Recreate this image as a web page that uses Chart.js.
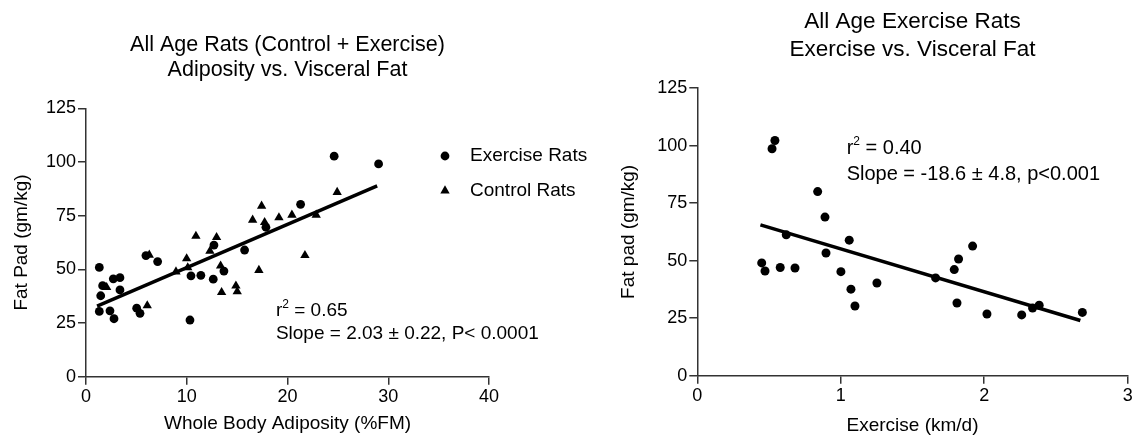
<!DOCTYPE html>
<html>
<head>
  <title>Visceral Fat vs Adiposity and Exercise</title>
  <script src="https://cdn.jsdelivr.net/npm/chart.js"></script>
  <style>
    body { margin: 0; background: #fff; }
    .box { position: absolute; top: 0; height: 439px; }
    #leftBox { left: 0; width: 600px; }
    #rightBox { left: 600px; width: 542px; }
  </style>
</head>
<body>
  <div class="box" id="leftBox"><canvas id="leftChart" width="600" height="439"></canvas></div>
  <div class="box" id="rightBox"><canvas id="rightChart" width="542" height="439"></canvas></div>

  <script>
    // left panel: adiposity (%FM) vs fat pad (gm/kg)
    const exAdiposity = [1.32, 1.46, 1.65, 1.32, 2.38, 2.78, 2.71, 3.37, 3.37, 5.03, 5.36, 5.95, 7.11,
                         10.42, 11.4, 10.32, 12.63, 12.7, 13.69, 15.74, 17.86, 21.3, 24.63, 29.04];
    const exFatPad    = [50.9, 37.7, 42.4, 30.4, 30.7, 27.0, 45.6, 46.1, 40.4, 31.9, 29.5, 56.4, 53.6,
                         47.0, 47.2, 26.4, 45.4, 61.3, 49.2, 59.0, 69.6, 80.3, 102.7, 99.1];
    const ctlAdiposity = [2.05, 6.08, 6.28, 8.93, 9.99, 10.1, 10.91, 12.3, 12.96, 13.36, 13.46, 14.88, 15.01,
                          16.54, 17.16, 17.43, 17.73, 19.15, 20.44, 21.73, 22.85, 24.93];
    const ctlFatPad    = [41.6, 33.1, 56.7, 48.9, 55.0, 50.8, 65.5, 58.5, 64.9, 51.6, 39.3, 42.3, 39.6,
                          73.0, 49.6, 79.5, 71.9, 74.1, 75.3, 56.5, 75.3, 85.9];
    const leftFitX = [1.1, 28.9];
    const leftFitY = [32.9, 88.9];
    const leftXTicks = [0, 10, 20, 30, 40];
    const yTicks = [0, 25, 50, 75, 100, 125];

    // right panel: exercise (km/d) vs fat pad (gm/kg)
    const exerciseKm = [0.541, 0.521, 0.839, 0.89, 0.62, 1.059, 0.897, 0.449, 0.472, 0.578, 0.681, 1.001,
                        1.071, 1.099, 1.252, 1.661, 1.919, 1.821, 1.791, 1.81, 2.019, 2.261, 2.337, 2.383, 2.684];
    const exerciseFat = [102.2, 98.6, 80.0, 68.9, 61.2, 58.9, 53.3, 49.0, 45.5, 47.0, 46.8, 45.2,
                         37.6, 30.3, 40.3, 42.5, 56.3, 50.7, 46.1, 31.6, 26.8, 26.4, 29.4, 30.6, 27.5];
    const rightFitX = [0.44, 2.67];
    const rightFitY = [65.5, 24.0];
    const rightXTicks = [0, 1, 2, 3];

    const FONT = 'Arial, "Liberation Sans", Helvetica, sans-serif';
    const INK = '#000';
    const AXIS = '#333';

    const toPoints = (xs, ys) => xs.map((v, i) => ({ x: v, y: ys[i] }));

    function fitNote(chart, note) {
      const { ctx, scales: { x, y } } = chart;
      const px = x.getPixelForValue(note.x);
      const big = note.size + 'px ' + FONT;
      ctx.save();
      ctx.fillStyle = INK;
      ctx.textBaseline = 'middle';
      ctx.textAlign = 'left';
      let py = y.getPixelForValue(note.y1);
      ctx.font = big;
      ctx.fillText('r', px, py);
      let w = ctx.measureText('r').width;
      ctx.font = '12px ' + FONT;
      ctx.fillText('2', px + w, py - 6);
      w += ctx.measureText('2').width;
      ctx.font = big;
      ctx.fillText(' = ' + note.r2, px + w, py);
      py = y.getPixelForValue(note.y2);
      ctx.fillText(note.slope, px, py);
      ctx.restore();
    }

    function marker(ctx, style, cx, cy, r) {
      ctx.beginPath();
      if (style === 'triangle') {
        ctx.moveTo(cx, cy - r);
        ctx.lineTo(cx + r * Math.sin(Math.PI / 3), cy + r / 2);
        ctx.lineTo(cx - r * Math.sin(Math.PI / 3), cy + r / 2);
        ctx.closePath();
      } else {
        ctx.arc(cx, cy, r, 0, Math.PI * 2);
      }
      ctx.fill();
    }

    const axisScale = (min, max, step, ticks, title, titlePad, afterFit) => ({
      type: 'linear',
      min: min,
      max: max,
      afterBuildTicks: s => { s.ticks = ticks.map(v => ({ value: v })); },
      afterFit: afterFit,
      border: { display: true, color: AXIS, width: 1.5 },
      grid: { display: true, drawOnChartArea: false, drawTicks: true, tickLength: 8, color: AXIS, lineWidth: 1.5 },
      ticks: { color: INK, padding: 2, font: { family: FONT, size: 18 }, stepSize: step },
      title: { display: true, text: title, color: INK, padding: titlePad, font: { family: FONT, size: 19 } }
    });

    const titleOpts = (lines, size, lh, pad) => ({
      display: true,
      text: lines,
      color: INK,
      fullSize: false,
      font: { family: FONT, size: size, weight: 'normal', lineHeight: lh },
      padding: pad
    });

    // left chart
    new Chart(document.getElementById('leftChart'), {
      type: 'scatter',
      data: {
        datasets: [
          { label: 'Exercise Rats', data: toPoints(exAdiposity, exFatPad), pointStyle: 'circle',
            pointRadius: 4.4, backgroundColor: INK, borderColor: INK, borderWidth: 0 },
          { label: 'Control Rats', data: toPoints(ctlAdiposity, ctlFatPad), pointStyle: 'triangle',
            pointRadius: 5.4, backgroundColor: INK, borderColor: INK, borderWidth: 0 },
          { label: 'fit', data: toPoints(leftFitX, leftFitY), showLine: true, pointRadius: 0,
            borderColor: INK, borderWidth: 3.5 }
        ]
      },
      options: {
        responsive: false,
        animation: false,
        devicePixelRatio: 1,
        events: [],
        layout: { padding: { left: 0, right: 111, top: 0, bottom: 0 } },
        scales: {
          x: axisScale(0, 40, 10, leftXTicks, 'Whole Body Adiposity (%FM)', { top: 0, bottom: 4 },
                       s => { s.height = 62.3; }),
          y: axisScale(0, 125, 25, yTicks, 'Fat Pad (gm/kg)', { top: 10, bottom: 0 },
                       s => { s.width = 86; })
        },
        plugins: {
          legend: { display: false },
          tooltip: { enabled: false },
          title: titleOpts(['All Age Rats (Control + Exercise)', 'Adiposity vs. Visceral Fat'], 21.5, 25 / 21.5,
                           { top: 32.5, bottom: 25.8 })
        }
      },
      plugins: [{
        id: 'leftExtras',
        afterDraw(chart) {
          fitNote(chart, { x: 18.85, y1: 30.6, y2: 20.1, size: 19, r2: '0.65', slope: 'Slope = 2.03 \u00b1 0.22, P< 0.0001' });
          const { ctx, chartArea } = chart;
          const mx = chartArea.right - 44;
          const rows = [['circle', 'Exercise Rats', 4.4, 47.7], ['triangle', 'Control Rats', 5.4, 82.4]];
          ctx.save();
          ctx.fillStyle = INK;
          ctx.font = '19px ' + FONT;
          ctx.textBaseline = 'middle';
          rows.forEach(([style, text, r, dy]) => {
            const cy = chartArea.top + dy;
            marker(ctx, style, mx, cy, r);
            ctx.fillText(text, mx + 25, cy);
          });
          ctx.restore();
        }
      }]
    });

    // right chart
    new Chart(document.getElementById('rightChart'), {
      type: 'scatter',
      data: {
        datasets: [
          { label: 'Exercise Rats', data: toPoints(exerciseKm, exerciseFat), pointStyle: 'circle',
            pointRadius: 4.5, backgroundColor: INK, borderColor: INK, borderWidth: 0 },
          { label: 'fit', data: toPoints(rightFitX, rightFitY), showLine: true, pointRadius: 0,
            borderColor: INK, borderWidth: 3.5 }
        ]
      },
      options: {
        responsive: false,
        animation: false,
        devicePixelRatio: 1,
        events: [],
        layout: { padding: { left: 0, right: 14.3, top: 0, bottom: 0 } },
        scales: {
          x: axisScale(0, 3, 1, rightXTicks, 'Exercise (km/d)', { top: 0, bottom: 2 },
                       s => { s.height = 63.3; }),
          y: axisScale(0, 125, 25, yTicks, 'Fat pad (gm/kg)', { top: 17, bottom: 0 },
                       s => { s.width = 97.3; })
        },
        plugins: {
          legend: { display: false },
          tooltip: { enabled: false },
          title: titleOpts(['All Age Exercise Rats', 'Exercise vs. Visceral Fat'], 22.5, 27.5 / 22.5,
                           { top: 8.25, bottom: 24.75 })
        }
      },
      plugins: [{
        id: 'rightExtras',
        afterDraw(chart) {
          fitNote(chart, { x: 1.041, y1: 98.9, y2: 87.6, size: 20, r2: '0.40', slope: 'Slope = -18.6 \u00b1 4.8, p<0.001' });
        }
      }]
    });
  </script>
</body>
</html>
